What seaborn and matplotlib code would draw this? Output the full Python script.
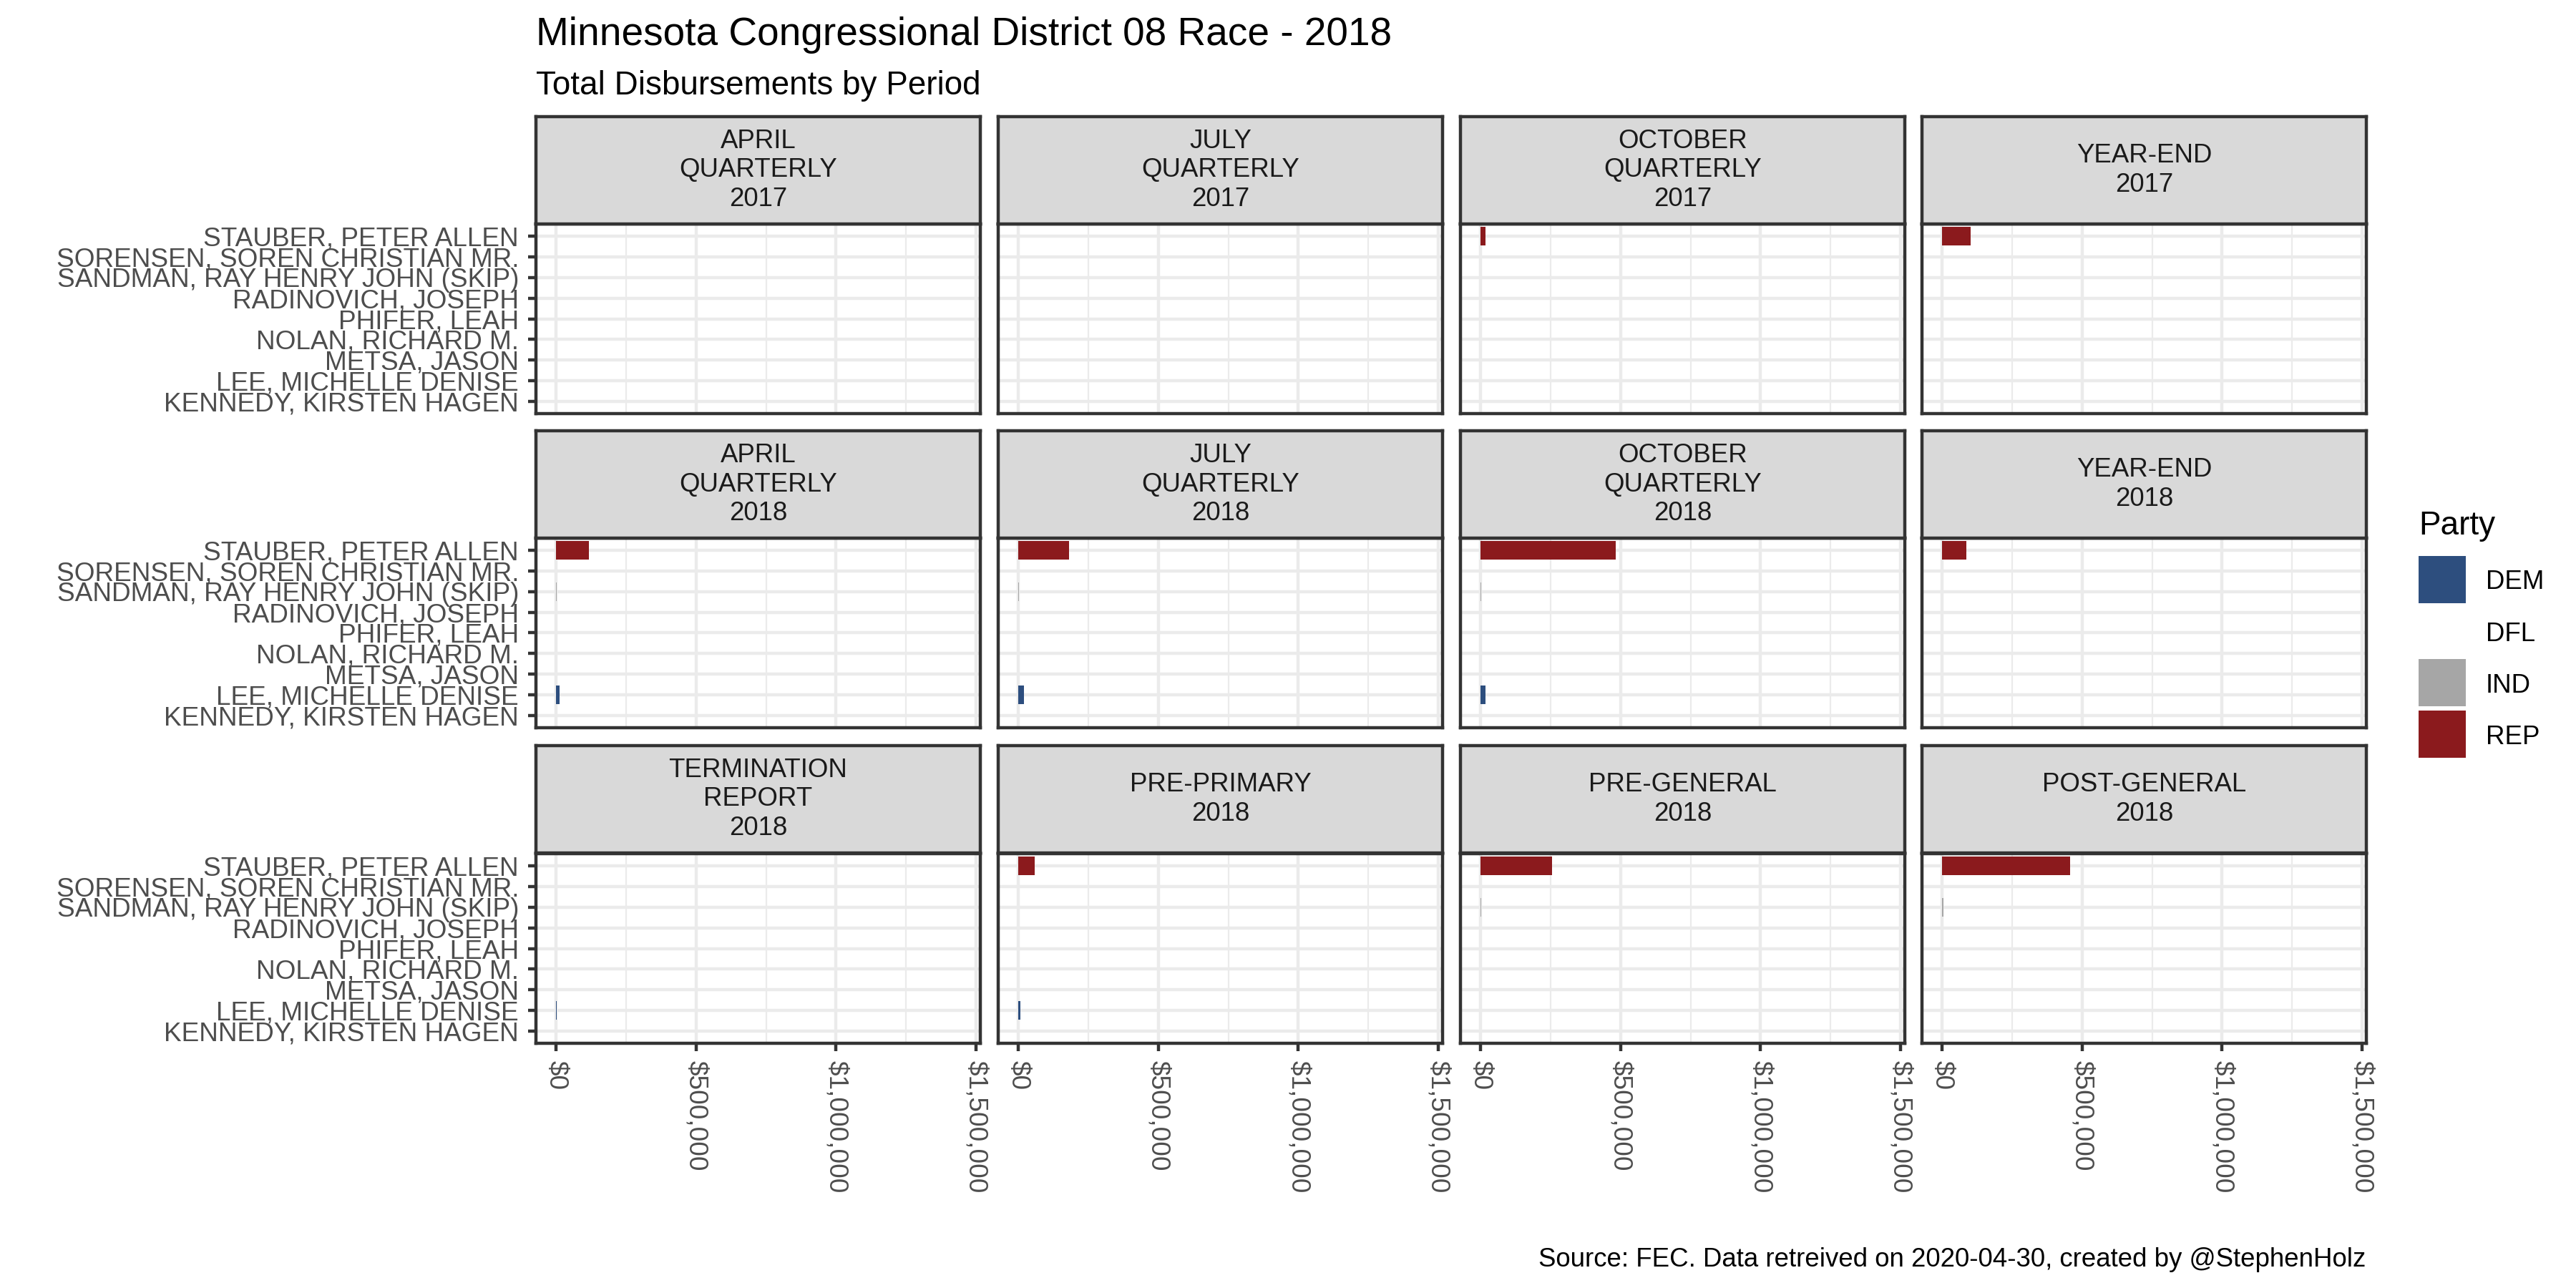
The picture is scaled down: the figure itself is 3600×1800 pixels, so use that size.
import matplotlib
matplotlib.use("Agg")
import numpy as np
import pandas as pd
import matplotlib.pyplot as plt
from matplotlib.patches import Rectangle
from matplotlib.ticker import FixedLocator, MultipleLocator, FuncFormatter
import seaborn as sns

# candidates, top to bottom as drawn
candidates = ["STAUBER, PETER ALLEN", "SORENSEN, SOREN CHRISTIAN MR.",
              "SANDMAN, RAY HENRY JOHN (SKIP)", "RADINOVICH, JOSEPH",
              "PHIFER, LEAH", "NOLAN, RICHARD M.", "METSA, JASON",
              "LEE, MICHELLE DENISE", "KENNEDY, KIRSTEN HAGEN"]
parties = ["REP", "IND", "IND", "DFL", "DFL", "DFL", "DFL", "DEM", "DFL"]

periods = ["APRIL\nQUARTERLY\n2017", "JULY\nQUARTERLY\n2017", "OCTOBER\nQUARTERLY\n2017", "YEAR-END\n2017",
           "APRIL\nQUARTERLY\n2018", "JULY\nQUARTERLY\n2018", "OCTOBER\nQUARTERLY\n2018", "YEAR-END\n2018",
           "TERMINATION\nREPORT\n2018", "PRE-PRIMARY\n2018", "PRE-GENERAL\n2018", "POST-GENERAL\n2018"]

# total disbursements per period
stauber    = [0, 0, 17000, 102000, 117000, 182000, 483000, 87000, 0, 59000, 254000, 456000]
sorensen   = [0, 0, 0, 0, 0, 0, 0, 0, 0, 0, 0, 0]
sandman    = [0, 0, 0, 0, 1500, 1200, 2500, 0, 0, 0, 1000, 4000]
radinovich = [0, 0, 0, 0, 0, 0, 0, 0, 0, 0, 0, 0]
phifer     = [0, 0, 0, 0, 0, 0, 0, 0, 0, 0, 0, 0]
nolan      = [0, 0, 0, 0, 0, 0, 0, 0, 0, 0, 0, 0]
metsa      = [0, 0, 0, 0, 0, 0, 0, 0, 0, 0, 0, 0]
lee        = [0, 0, 0, 0, 13000, 19000, 18000, 0, 1000, 8000, 0, 0]
kennedy    = [0, 0, 0, 0, 0, 0, 0, 0, 0, 0, 0, 0]

party_order = ["DEM", "DFL", "IND", "REP"]
party_colors = {"DEM": "#2D4E7E", "DFL": "#FFFFFF", "IND": "#A6A6A6", "REP": "#8B1A1D"}

amounts = [stauber, sorensen, sandman, radinovich, phifer, nolan, metsa, lee, kennedy]
rows = []
for cand, party, vals in zip(candidates, parties, amounts):
    for per, v in zip(periods, vals):
        rows.append({"period": per, "candidate": cand, "party": party, "amount": v})
df = pd.DataFrame(rows)

sns.set_theme(style="white")
plt.rcParams["font.family"] = ["Liberation Sans", "DejaVu Sans"]

W, H = 3600, 1800
fig = plt.figure(figsize=(12, 6), dpi=300)

col_left = [749, 1395, 2041, 2686]
panel_top = [313, 752, 1193]
strip_top = [163, 602, 1042]
pw, ph, sh = 621, 265, 150
lw = 1.07
dark = "#333333"

money = FuncFormatter(lambda v, p: "${:,.0f}".format(v))

for i, per in enumerate(periods):
    r, c = divmod(i, 4)
    x0 = col_left[c]
    ax = fig.add_axes([x0 / W, 1 - (panel_top[r] + ph) / H, pw / W, ph / H])
    sub = df[df.period == per]
    sns.barplot(data=sub, x="amount", y="candidate", hue="party", order=candidates,
                hue_order=party_order, palette=party_colors, dodge=False, width=0.9,
                errorbar=None, legend=False, linewidth=0, saturation=1, ax=ax)
    ax.set_xlim(-72000, 1515000)
    ax.set_ylim(8.6, -0.6)
    ax.set_xlabel("")
    ax.set_ylabel("")
    ax.xaxis.set_major_locator(FixedLocator([0, 500000, 1000000, 1500000]))
    ax.xaxis.set_minor_locator(MultipleLocator(250000))
    ax.xaxis.set_major_formatter(money)
    ax.set_axisbelow(True)
    ax.grid(True, which="major", color="#EBEBEB", linewidth=lw)
    ax.grid(True, which="minor", axis="x", color="#EBEBEB", linewidth=lw / 2)
    for s in ax.spines.values():
        s.set_color(dark)
        s.set_linewidth(lw)
        s.set_visible(True)
    ax.tick_params(axis="both", which="major", length=2.75, width=lw, color=dark,
                   labelsize=8.9, labelcolor="#4D4D4D", pad=3.0)
    ax.tick_params(axis="x", which="minor", length=0)
    ax.tick_params(axis="x", labelrotation=270)
    if c != 0:
        ax.tick_params(axis="y", left=False, labelleft=False)
    else:
        ax.tick_params(axis="y", left=True)
    if r != 2:
        ax.tick_params(axis="x", bottom=False, labelbottom=False)
    else:
        ax.tick_params(axis="x", bottom=True)

    sax = fig.add_axes([x0 / W, 1 - (strip_top[r] + sh) / H, pw / W, sh / H])
    sax.set_facecolor("#D9D9D9")
    sax.set_xticks([])
    sax.set_yticks([])
    for s in sax.spines.values():
        s.set_color(dark)
        s.set_linewidth(lw)
        s.set_visible(True)
    sax.text(0.5, 0.5, per, ha="center", va="center", fontsize=8.8, color="#1A1A1A",
             linespacing=1.22, transform=sax.transAxes)

fig.text(749 / W, 1 - 63 / H, "Minnesota Congressional District 08 Race - 2018",
         fontsize=13.2, color="black", ha="left", va="baseline")
fig.text(749 / W, 1 - 132 / H, "Total Disbursements by Period",
         fontsize=11, color="black", ha="left", va="baseline")
fig.text(3306 / W, 1 - 1770 / H, "Source: FEC. Data retreived on 2020-04-30, created by @StephenHolz",
         fontsize=8.8, color="black", ha="right", va="baseline")

# legend
fig.text(3380 / W, 1 - 747 / H, "Party", fontsize=11, color="black", ha="left", va="baseline")
for k, p in enumerate(party_order):
    top = 777 + 72 * k
    fig.add_artist(Rectangle((3380 / W, 1 - (top + 66) / H), 66 / W, 66 / H,
                             transform=fig.transFigure, facecolor=party_colors[p],
                             edgecolor="none"))
    fig.text(3474 / W, 1 - (top + 33) / H, p, fontsize=8.8, color="black",
             ha="left", va="center_baseline")

fig.savefig("out.png", dpi=300)
